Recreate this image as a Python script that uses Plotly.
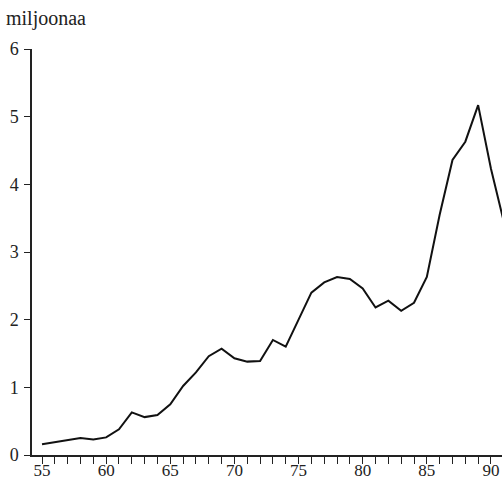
import plotly.graph_objects as go

years = list(range(55, 92))
values = [0.16, 0.19, 0.22, 0.25, 0.23, 0.26, 0.38, 0.63, 0.56, 0.59, 0.75,
          1.02, 1.22, 1.46, 1.57, 1.43, 1.38, 1.39, 1.70, 1.60, 2.00, 2.40,
          2.55, 2.63, 2.60, 2.46, 2.18, 2.28, 2.13, 2.25, 2.63, 3.55, 4.36,
          4.63, 5.17, 4.23, 3.45]

x_tickvals = list(range(55, 91))
x_ticktext = [str(v) if v % 5 == 0 else "" for v in x_tickvals]
y_tickvals = [0, 1, 2, 3, 4, 5, 6]
y_label = "miljoonaa"

font_family = "Liberation Serif"

fig = go.Figure()
fig.add_trace(go.Scatter(x=years, y=values, mode="lines",
                         line=dict(color="#111111", width=2), hoverinfo="skip"))

fig.update_layout(
    width=502, height=483,
    margin=dict(l=32, r=0, t=49, b=28),
    paper_bgcolor="white", plot_bgcolor="white",
    showlegend=False,
    font=dict(family=font_family, size=18, color="#222222"),
    xaxis=dict(range=[54.22, 90.86], tickmode="array", tickvals=x_tickvals,
               ticktext=x_ticktext, ticks="outside", ticklen=7, tickwidth=1,
               tickcolor="#222222", showline=True, linecolor="#222222",
               linewidth=1.5, showgrid=False, zeroline=False,
               automargin=False, ticklabelstandoff=-8,
               tickfont=dict(family=font_family, size=17, color="#222222")),
    yaxis=dict(range=[0, 6], tickmode="array", tickvals=y_tickvals,
               ticks="outside", ticklen=6, tickwidth=1, tickcolor="#222222",
               showline=True, linecolor="#222222", linewidth=1.5,
               showgrid=False, zeroline=False, automargin=False,
               ticklabelstandoff=2),
    annotations=[dict(text=y_label, xref="paper", yref="paper",
                      x=-28/470, y=1 + 30/406, xanchor="left", yanchor="middle",
                      showarrow=False, font=dict(family=font_family, size=20,
                                                 color="#222222"))],
)

fig.write_html("out.html", config={"displayModeBar": False})

with open("out.html", "r", encoding="utf-8") as f:
    html = f.read()
html = html.replace("<head>", "<head><style>html,body{margin:0;padding:0;overflow:hidden;}</style>", 1)
with open("out.html", "w", encoding="utf-8") as f:
    f.write(html)
